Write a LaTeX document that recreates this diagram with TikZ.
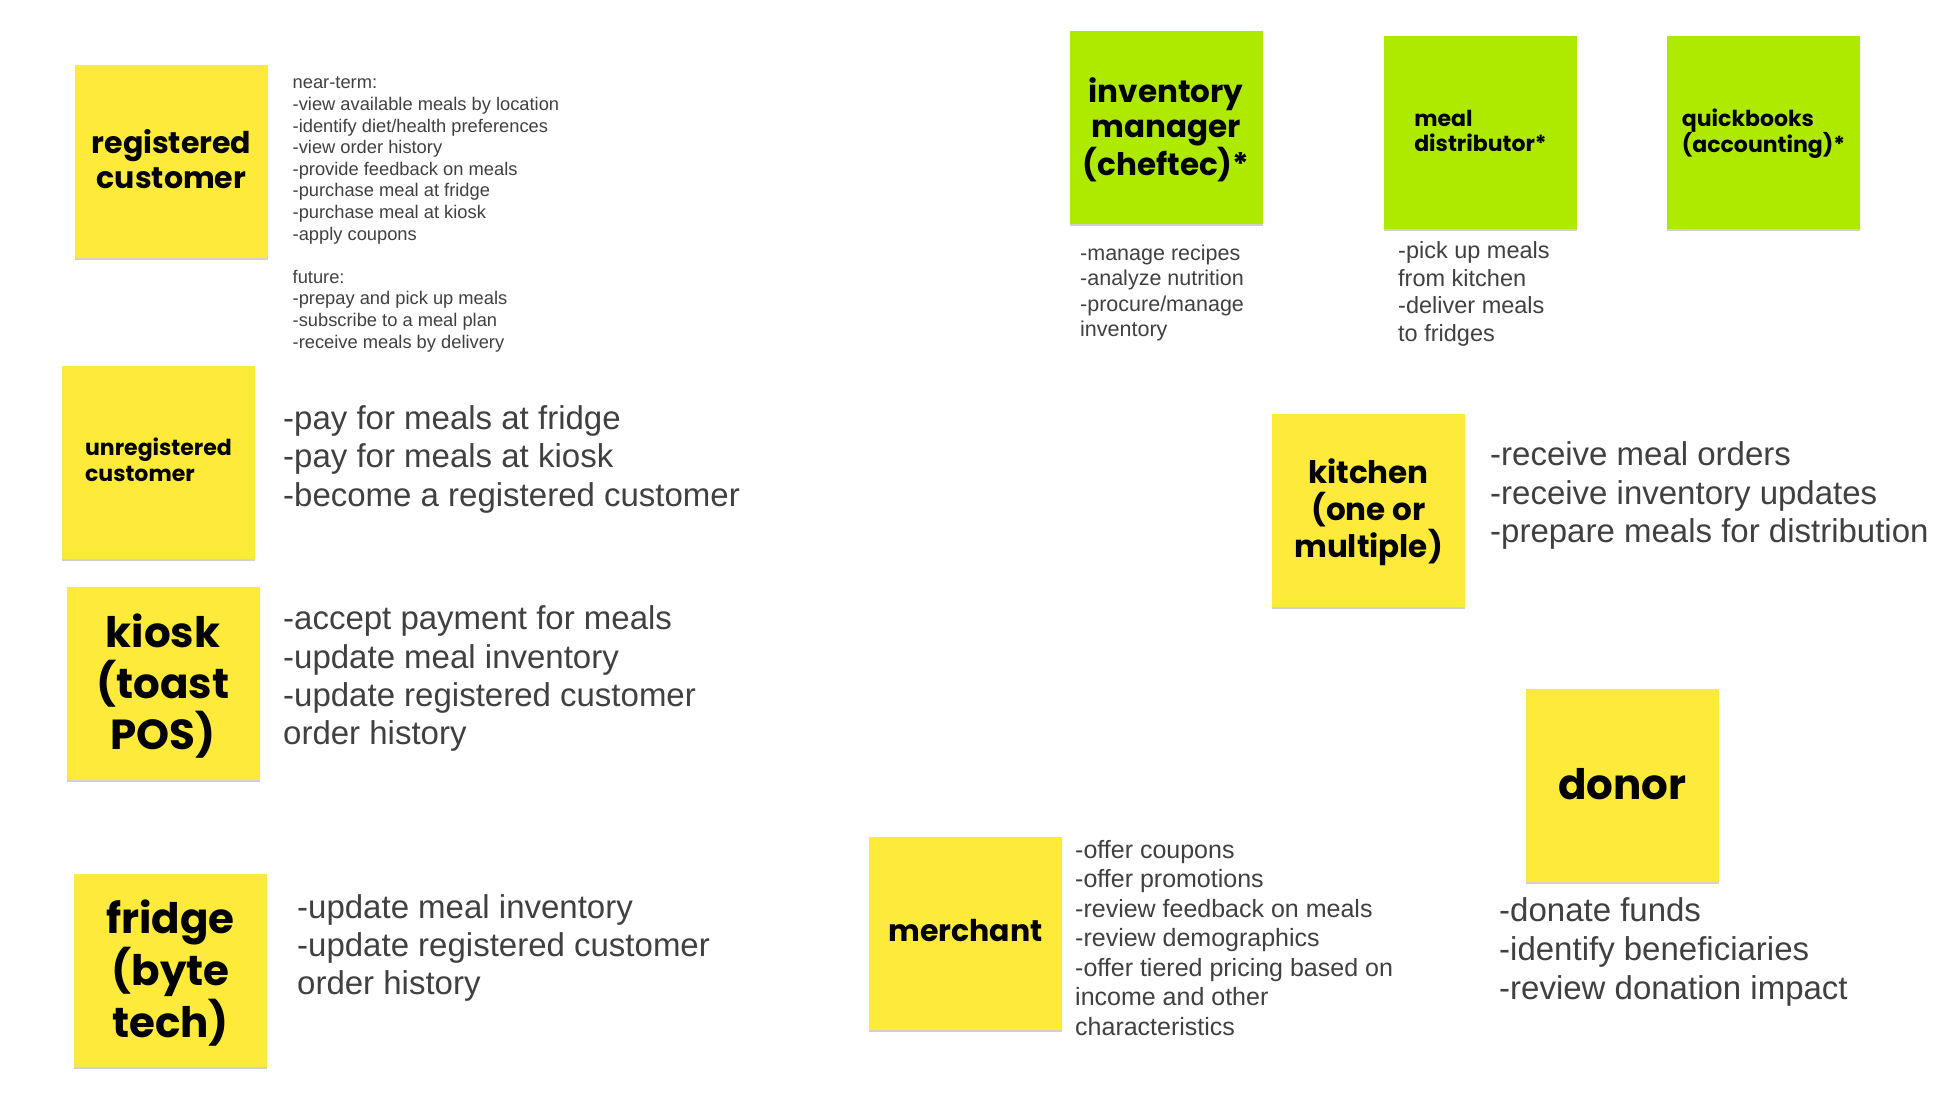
\documentclass[tikz,border=0pt]{standalone}
\usepackage{fontspec}
\setmainfont{Liberation Sans}
\newfontfamily\titlefont{Poppins}
\usetikzlibrary{shadows}
\definecolor{sticky}{HTML}{FEEA3B}
\definecolor{limegreen}{HTML}{AEEA00}
\definecolor{txt}{HTML}{404040}
\newcommand\setfs[2]{\fontsize{#1pt}{#2pt}\selectfont}
\newcommand\ts{\rule{0pt}{0.75em}}
\tikzset{
  note/.style={minimum width=193pt, minimum height=193pt, inner sep=0pt,
    drop shadow={shadow xshift=0pt, shadow yshift=-2pt, opacity=0.3, fill=black!60},
    text=black},
  ynote/.style={note, fill=sticky},
  gnote/.style={note, fill=limegreen},
  desc/.style={anchor=north west, inner sep=0pt, align=left, text=txt},
}
\begin{document}
\begin{tikzpicture}[x=1pt,y=-1pt]
\fill[white] (0,0) rectangle (1941,1106);
\useasboundingbox (0,0) rectangle (1941,1106);

% sticky notes
\node[ynote, align=center, font=\titlefont\bfseries\setfs{30}{35}] (reg) at (171.5,161.5) {};
\node[align=center, inner sep=0pt, font=\titlefont\bfseries\setfs{30}{35}] (regt) at (171.5,159) {registered\\customer};
\node[ynote, align=left, font=\titlefont\bfseries\setfs{22}{26}] (unreg) at (158.5,462.5) {};
\node[align=left, inner sep=0pt, font=\titlefont\bfseries\setfs{22}{26}] (unregt) at (158.5,460) {unregistered\\customer};
\node[ynote] (kiosk) at (163,683) {};
\node[align=center, inner sep=0pt, font=\titlefont\bfseries\setfs{42}{51}] (kioskt) at (163,686.5) {kiosk\\(toast\\POS)};
\node[ynote] (fridge) at (170.5,970.5) {};
\node[align=center, inner sep=0pt, font=\titlefont\bfseries\setfs{42}{52}] (fridget) at (170.5,973.5) {fridge\\(byte\\tech)};
\node[ynote] (merchant) at (965.5,933.5) {};
\node[align=center, inner sep=0pt, font=\titlefont\bfseries\setfs{30}{35}] (merchantt) at (965.5,931) {merchant};
\node[ynote] (donor) at (1622.5,785) {};
\node[align=center, inner sep=0pt, font=\titlefont\bfseries\setfs{42}{51}] (donort) at (1622.5,784) {donor};
\node[gnote] (inv) at (1166,127.5) {};
\node[align=center, inner sep=0pt, font=\titlefont\bfseries\setfs{31}{35}] (invt) at (1166,130) {inventory\\manager\\(cheftec)*};
\node[gnote] (dist) at (1480.5,132) {};
\node[align=left, inner sep=0pt, font=\titlefont\bfseries\setfs{22}{25}] (distt) at (1480.5,131) {meal\\distributor*};
\node[gnote] (qb) at (1763.5,132.5) {};
\node[align=left, inner sep=0pt, font=\titlefont\bfseries\setfs{22}{26}] (qbt) at (1763.5,133.5) {quickbooks\\(accounting)*};
\node[ynote] (kitchen) at (1368.5,510) {};
\node[align=center, inner sep=0pt, font=\titlefont\bfseries\setfs{31}{37}] (kitchent) at (1368.5,512.5) {kitchen\\(one or\\multiple)};

% descriptions
\node[desc, font=\setfs{18.3}{21.6}] (regtxt) at (292.5,75) {\ts near-term:\\-view available meals by location\\-identify diet/health preferences\\-view order history\\-provide feedback on meals\\-purchase meal at fridge\\-purchase meal at kiosk\\-apply coupons\\[21.6pt]future:\\-prepay and pick up meals\\-subscribe to a meal plan\\-receive meals by delivery};
\node[desc, font=\setfs{33}{38.3}] (unregtxt) at (283,404.5) {\ts -pay for meals at fridge\\-pay for meals at kiosk\\-become a registered customer};
\node[desc, font=\setfs{33}{38.3}] (kiosktxt) at (283,605) {\ts -accept payment for meals\\-update meal inventory\\-update registered customer\\order history};
\node[desc, font=\setfs{33}{38}] (fridgetxt) at (297,894) {\ts -update meal inventory\\-update registered customer\\order history};
\node[desc, font=\setfs{25}{29.5}] (merchtxt) at (1075,839.5) {\ts -offer coupons\\-offer promotions\\-review feedback on meals\\-review demographics\\-offer tiered pricing based on\\income and other\\characteristics};
\node[desc, font=\setfs{33}{38.8}] (donortxt) at (1499,897) {\ts -donate funds\\-identify beneficiaries\\-review donation impact};
\node[desc, font=\setfs{21.5}{25.5}] (invtxt) at (1080,244) {\ts -manage recipes\\-analyze nutrition\\-procure/manage\\inventory};
\node[desc, font=\setfs{23.5}{27.7}] (disttxt) at (1398,240.5) {\ts -pick up meals\\from kitchen\\-deliver meals\\to fridges};
\node[desc, font=\setfs{33}{38.5}] (kitchentxt) at (1490,441) {\ts -receive meal orders\\-receive inventory updates\\-prepare meals for distribution};
\end{tikzpicture}
\end{document}
